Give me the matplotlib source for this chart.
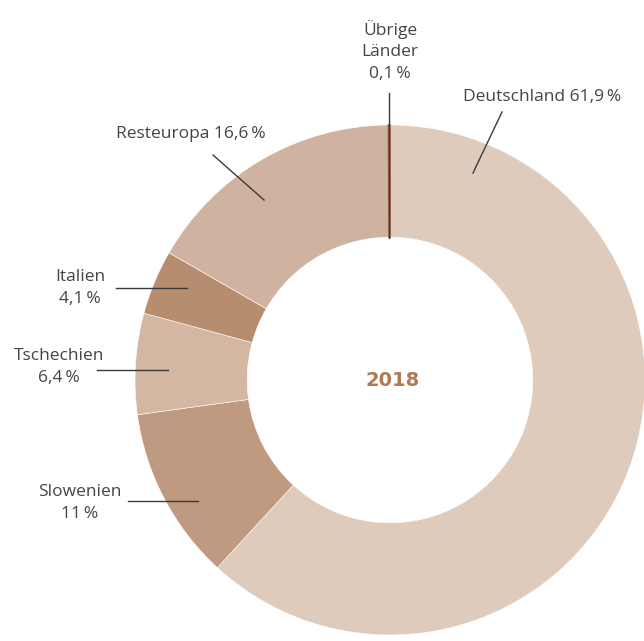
'''
Donut chart: Herkunft 2018
'''

import matplotlib.pyplot as plt
import numpy as np

# data
labels = ['Deutschland', 'Slowenien', 'Tschechien', 'Italien', 'Resteuropa', 'Übrige Länder']
shares = [61.9, 11.0, 6.4, 4.1, 16.6, 0.1]
share_texts = ['61,9\u2009%', '11\u2009%', '6,4\u2009%', '4,1\u2009%', '16,6\u2009%', '0,1\u2009%']
colors = ['#dfcbbc', '#bf9a80', '#d3b7a3', '#b78d70', '#cfb3a0', '#9c6040']
year = '2018'
##########

W, H = 644, 641
CX, CY, R = 390, 380, 255


def px(x, y):
    # pixel position -> data coords (radius 1 == R pixels)
    return (x - CX) / R, (CY - y) / R


fig = plt.figure(figsize=(W / 100, H / 100), dpi=100)
ax = fig.add_axes([0, 0, 1, 1])

wedges, _ = ax.pie(shares, colors=colors, startangle=90, counterclock=False, radius=1,
                   wedgeprops=dict(width=0.44, edgecolor='white', linewidth=0.4))
# the tiny slice would vanish under the white edge
wedges[-1].set_edgecolor(colors[-1])
wedges[-1].set_linewidth(1.2)
wedges[-1].set_zorder(3)

# pie() resets the limits, so set them afterwards
ax.set_xlim(-CX / R, (W - CX) / R)
ax.set_ylim(-(H - CY) / R, CY / R)
ax.set_aspect('equal')
ax.axis('off')

ax.text(0.01, 0, year, ha='center', va='center', fontsize=14, fontweight='bold',
        color='#b07a55', family='DejaVu Sans')

tc = '#444444'
fs = 12.5
fam = ['Open Sans', 'DejaVu Sans']
lc = '#3a3a3a'

# label text, text position (pixel), line start, line end (pixel)
layout = [
    (labels[0] + ' ' + share_texts[0], (542, 97), (502, 112), (473, 173)),
    ('Slowenien\n' + share_texts[1], (80, 503), (128, 501), (198, 501)),
    ('Tschechien\n' + share_texts[2], (59, 367), (97, 370), (168, 370)),
    ('Italien\n' + share_texts[3], (80, 288), (116, 288), (187, 288)),
    (labels[4] + ' ' + share_texts[4], (191, 134), (213, 155), (264, 200)),
    ('Übrige\nLänder\n' + share_texts[5], (390, 51), (389, 93), (389, 238)),
]

for txt, tpos, l0, l1 in layout:
    ax.text(*px(*tpos), txt, ha='center', va='center', fontsize=fs, color=tc,
            family=fam, linespacing=1.45)
    x0, y0 = px(*l0)
    x1, y1 = px(*l1)
    ax.plot([x0, x1], [y0, y1], color=lc, lw=1, zorder=4)

fig.savefig('out.png', dpi=100)
